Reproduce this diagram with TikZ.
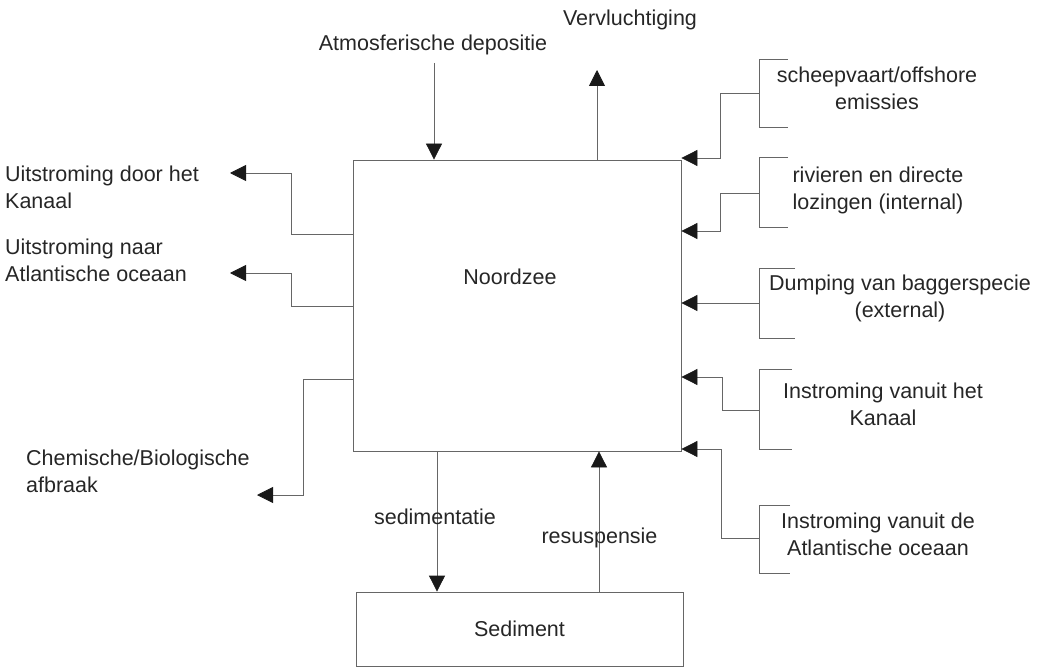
\documentclass[tikz,border=0pt]{standalone}
\usepackage{fontspec}
\setmainfont{Liberation Sans}
\usetikzlibrary{arrows.meta}
\definecolor{ln}{HTML}{666666}
\definecolor{tx}{HTML}{262626}
\tikzset{
  lbl/.style={font=\fontsize{21.5}{27}\selectfont, text=tx, inner sep=0pt, align=center},
  lbll/.style={lbl, align=left, anchor=west},
  boxn/.style={draw=ln, line width=0.8pt, inner sep=0pt, font=\fontsize{21.5}{27}\selectfont, text=tx},
  arr/.style={draw=ln, line width=0.8pt, -{Triangle[length=16pt,width=16pt,color=black!90]}},
  ln/.style={draw=ln, line width=0.8pt}
}
\begin{document}
\begin{tikzpicture}[x=1pt,y=-1pt]
\useasboundingbox (0,0) rectangle (1046,668);
% boxes
\node[boxn, minimum width=328pt, minimum height=291pt] (nz) at (517,305.5) {};
\node[lbl] (nzl) at (510,277) {Noordzee};
\node[boxn, minimum width=327pt, minimum height=74pt] (sed) at (519.5,629) {Sediment};
% top labels
\node[lbl] (atm) at (433,45) {Atmosferische depositie};
\node[lbl] (verv) at (630,20) {Vervluchtiging};
\coordinate (atms) at (434,63);
\coordinate (vervt) at (597,70);
\draw[arr] (atms) -- (atms |- nz.north);
\draw[arr] (vervt |- nz.north) -- (vervt);
% bottom
\draw[arr] (nz.south -| 437,0) -- (sed.north -| 437,0);
\draw[arr] (sed.north -| 599,0) -- (nz.south -| 599,0);
\node[lbl] (sedl) at (435,517) {sedimentatie};
\node[lbl] (resl) at (599.5,538) {resuspensie};
% right labels
\node[lbl] (r1) at (877,88) {scheepvaart/offshore\\emissies};
\node[lbl] (r2) at (878,190) {rivieren en directe\\lozingen (internal)};
\node[lbl] (r3) at (900,298) {Dumping van baggerspecie\\(external)};
\node[lbl] (r4) at (883,404) {Instroming vanuit het\\Kanaal};
\node[lbl] (r5) at (878,534) {Instroming vanuit de\\Atlantische oceaan};
% brackets
\draw[ln] (788,59) -- (759,59) -- (759,127) -- (788,127);
\draw[ln] (788,157) -- (759,157) -- (759,227) -- (788,227);
\draw[ln] (795,268) -- (759,268) -- (759,338) -- (795,338);
\draw[ln] (792,369) -- (759,369) -- (759,449) -- (792,449);
\draw[ln] (790,505) -- (759,505) -- (759,573) -- (790,573);
\coordinate (b1) at (759,93);
\coordinate (b2) at (759,193);
\coordinate (b3) at (759,303);
\coordinate (b4) at (759,410);
\coordinate (b5) at (759,538);
\draw[arr] (b1) -- (720,93) -- (720,158) -- (nz.east |- 0,158);
\draw[arr] (b2) -- (720,193) -- (720,231) -- (nz.east |- 0,231);
\draw[arr] (b3) -- (nz.east |- 0,303);
\draw[arr] (b4) -- (722,410) -- (722,377) -- (nz.east |- 0,377);
\draw[arr] (b5) -- (721,538) -- (721,449) -- (nz.east |- 0,449);
% left labels
\node[lbll] (l1) at (5,187.5) {Uitstroming door het\\Kanaal};
\node[lbll] (l2) at (5,260) {Uitstroming naar\\Atlantische oceaan};
\node[lbll] (l3) at (26,471.5) {Chemische/Biologische\\afbraak};
\coordinate (t1) at (230,173);
\coordinate (t2) at (230,273);
\coordinate (t3) at (257,495);
\draw[arr] (nz.west |- 0,234) -- (291,234) -- (291,173) -- (t1);
\draw[arr] (nz.west |- 0,306) -- (291,306) -- (291,273) -- (t2);
\draw[arr] (nz.west |- 0,379) -- (303,379) -- (303,495) -- (t3);
\end{tikzpicture}
\end{document}
